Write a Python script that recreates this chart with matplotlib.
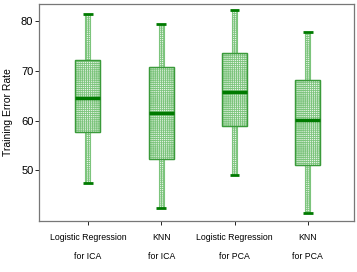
import matplotlib
matplotlib.use("Agg")
import matplotlib.pyplot as plt
from matplotlib import font_manager

labels = ["Logistic Regression\nfor ICA", "KNN\nfor ICA",
          "Logistic Regression\nfor PCA", "KNN\nfor PCA"]
whislo = [47.5, 42.5, 49.1, 41.5]
q1 = [57.7, 52.3, 58.9, 51.1]
med = [64.5, 61.5, 65.7, 60.1]
q3 = [72.1, 70.8, 73.5, 68.2]
whishi = [81.5, 79.3, 82.3, 77.8]

green = "#007a00"
light = "#7cc47c"
names = {f.name for f in font_manager.fontManager.ttflist}
fam = [n for n in ["Liberation Sans Narrow", "Liberation Sans", "DejaVu Sans"] if n in names]
plt.rcParams["font.family"] = fam
plt.rcParams["hatch.linewidth"] = 0.6

fig = plt.figure(figsize=(3.57, 2.72), dpi=100)
ax = fig.add_axes([0.109, 0.1875, 0.883, 0.7975])

pos = [1, 2, 3, 4]
bw = 0.34
ww = 0.07
cw = 0.13

# whiskers as narrow hatched bars
for p, lo, a, b, hi in zip(pos, whislo, q1, q3, whishi):
    ax.bar(p, a - lo, bottom=lo, width=ww, facecolor="#e6f4e6", edgecolor=light,
           hatch="++++++++", linewidth=0.8, zorder=2)
    ax.bar(p, hi - b, bottom=b, width=ww, facecolor="#e6f4e6", edgecolor=light,
           hatch="++++++++", linewidth=0.8, zorder=2)
    ax.plot([p - cw / 2, p + cw / 2], [lo, lo], color=green, lw=2, solid_capstyle="butt", zorder=3)
    ax.plot([p - cw / 2, p + cw / 2], [hi, hi], color=green, lw=2, solid_capstyle="butt", zorder=3)

# boxes
for p, a, m, b in zip(pos, q1, med, q3):
    ax.bar(p, b - a, bottom=a, width=bw, facecolor="#e6f4e6", edgecolor=light,
           hatch="++++++++", linewidth=0.8, zorder=2)
    ax.bar(p, b - a, bottom=a, width=bw, facecolor="none", edgecolor="#3a9a3a",
           linewidth=1.0, zorder=3)
    ax.plot([p - bw / 2, p + bw / 2], [m, m], color=green, lw=2.5, solid_capstyle="butt", zorder=4)

ax.set_xlim(0.333, 4.63)
ax.set_ylim(39.8, 83.4)
ax.set_yticks([50, 60, 70, 80])
ax.set_xticks(pos)
ax.set_xticklabels(labels, fontsize=6.3, linespacing=2.4)
ax.tick_params(axis="y", labelsize=8, length=3, width=0.6, pad=1)
ax.tick_params(axis="x", length=3, width=0.6, pad=6)
ax.set_ylabel("Training Error Rate", fontsize=7.5, labelpad=6)
for s in ax.spines.values():
    s.set_color("#777777")
    s.set_linewidth(0.9)

fig.savefig("out.png", dpi=100)
